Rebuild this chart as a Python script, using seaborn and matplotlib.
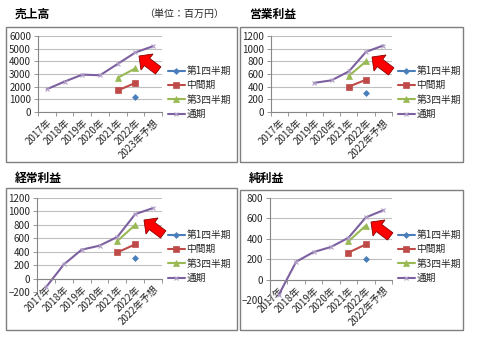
import numpy as np
import pandas as pd
import matplotlib
matplotlib.use("Agg")
import matplotlib.pyplot as plt
import seaborn as sns
from matplotlib.patches import Rectangle, Polygon
from matplotlib.transforms import IdentityTransform

sns.set_theme(style="white")
plt.rcParams['font.family'] = ['Noto Sans CJK JP', 'DejaVu Sans']

series_names = ["第1四半期", "中間期", "第3四半期", "通期"]
colors = ["#4A7EBB", "#BE4B48", "#98B954", "#7D60A0"]
markers = ["D", "s", "^", "x"]
msizes = [3.0, 4.5, 4.5, 3.3]

cats_a = ["2017年", "2018年", "2019年", "2020年", "2021年", "2022年", "2023年予想"]
cats_b = ["2017年", "2018年", "2019年", "2020年", "2021年", "2022年", "2022年予想"]

nan = np.nan
# 売上高
sales_q1 = [nan, nan, nan, nan, nan, 1150, nan]
sales_h1 = [nan, nan, nan, nan, 1700, 2300, nan]
sales_q3 = [nan, nan, nan, nan, 2700, 3450, nan]
sales_fy = [1800, 2400, 2950, 2900, 3800, 4700, 5200]
# 営業利益
op_q1 = [nan, nan, nan, nan, nan, 300, nan]
op_h1 = [nan, nan, nan, nan, 400, 510, nan]
op_q3 = [nan, nan, nan, nan, 570, 800, nan]
op_fy = [nan, nan, 460, 500, 640, 950, 1050]
# 経常利益
ord_q1 = [nan, nan, nan, nan, nan, 300, nan]
ord_h1 = [nan, nan, nan, nan, 390, 510, nan]
ord_q3 = [nan, nan, nan, nan, 560, 800, nan]
ord_fy = [-130, 210, 430, 490, 620, 960, 1050]
# 純利益
net_q1 = [nan, nan, nan, nan, nan, 200, nan]
net_h1 = [nan, nan, nan, nan, 265, 345, nan]
net_q3 = [nan, nan, nan, nan, 375, 530, nan]
net_fy = [-150, 175, 270, 320, 410, 610, 680]

W, H = 480, 338
fig = plt.figure(figsize=(4.8, 3.38), dpi=100)

def rect(l, t, r, b):
    return [l / W, 1 - b / H, (r - l) / W, (b - t) / H]

panels = [
    dict(title="売上高", cats=cats_a, data=[sales_q1, sales_h1, sales_q3, sales_fy],
         ylim=(0, 6000), step=1000, area=(38, 36, 162, 112), frame=(6, 27, 237, 162),
         tpos=(15, 14), leg=(168, 66), arrow=(139, 56)),
    dict(title="営業利益", cats=cats_b, data=[op_q1, op_h1, op_q3, op_fy],
         ylim=(0, 1200), step=200, area=(271, 36, 392, 112), frame=(240, 27, 463, 162),
         tpos=(249, 14), leg=(398, 66), arrow=(372, 57)),
    dict(title="経常利益", cats=cats_b, data=[ord_q1, ord_h1, ord_q3, ord_fy],
         ylim=(-200, 1200), step=200, area=(37, 198, 162, 292), frame=(6, 188, 237, 330),
         tpos=(15, 178), leg=(168, 230), arrow=(144, 220)),
    dict(title="純利益", cats=cats_b, data=[net_q1, net_h1, net_q3, net_fy],
         ylim=(-200, 800), step=200, area=(270, 198, 392, 300), frame=(240, 190, 463, 330),
         tpos=(249, 178), leg=(398, 230), arrow=(371, 222)),
]

def block_arrow(tip_px, direction=(-0.8, -0.6), total=24, head_len=10, head_w=20, shaft_w=9):
    # tip given in screen pixels from the top-left; direction in screen coords (y down)
    d = np.array(direction, float)
    d /= np.linalg.norm(d)
    n = np.array([-d[1], d[0]])
    tip = np.array(tip_px, float)
    pts_local = [(0, 0), (head_len, head_w / 2), (head_len, shaft_w / 2),
                 (total, shaft_w / 2), (total, -shaft_w / 2), (head_len, -shaft_w / 2),
                 (head_len, -head_w / 2)]
    pts = []
    for a, w in pts_local:
        q = tip - a * d + w * n
        pts.append((q[0], H - q[1]))
    return Polygon(pts, closed=True, facecolor="#FF0000", edgecolor="#8a0000",
                   linewidth=0.6, transform=IdentityTransform())

for p in panels:
    l, t, r, b = p["frame"]
    fig.patches.append(Rectangle((l / W, 1 - b / H), (r - l) / W, (b - t) / H,
                                 transform=fig.transFigure, fill=False,
                                 edgecolor="#7f7f7f", linewidth=1.0))
    fig.text(p["tpos"][0] / W, 1 - p["tpos"][1] / H, p["title"], fontsize=8.5,
             fontweight="bold", ha="left", va="center", color="black")

    ax = fig.add_axes(rect(*p["area"]))
    x = np.arange(len(p["cats"]))
    for name, vals, c, m, ms in zip(series_names, p["data"], colors, markers, msizes):
        df = pd.DataFrame({"x": x, "y": vals}).dropna()
        sns.lineplot(data=df, x="x", y="y", ax=ax, color=c, marker=m, markersize=ms,
                     markeredgecolor=("#B3A2C7" if m == "x" else c),
                     markeredgewidth=0.8 if m == "x" else 0.5,
                     linewidth=1.5, label=name, legend=False)
    for s in ["top", "right"]:
        ax.spines[s].set_visible(False)
    for s in ["left", "bottom"]:
        ax.spines[s].set_color("#868686")
        ax.spines[s].set_linewidth(0.8)
    ax.spines["bottom"].set_position(("data", 0))

    ax.set_xlim(-0.5, len(p["cats"]) - 0.5)
    ax.set_ylim(*p["ylim"])
    ax.set_yticks(np.arange(p["ylim"][0], p["ylim"][1] + 1, p["step"]))
    ax.set_xticks(x)
    ax.set_xticklabels(p["cats"], rotation=45, ha="right", rotation_mode="anchor")
    ax.set_xticks(np.arange(-0.5, len(p["cats"]), 1.0), minor=True)
    ax.tick_params(axis="x", which="major", length=0, labelsize=7, pad=4)
    ax.tick_params(axis="x", which="minor", length=3, width=0.6, color="#868686", direction="out", bottom=True)
    ax.tick_params(axis="y", length=3, width=0.6, color="#868686", labelsize=7, pad=2, left=True)
    ax.set_xlabel("")
    ax.set_ylabel("")
    ax.grid(axis="y", color="#bfbfbf", linewidth=0.8)
    ax.set_axisbelow(True)
    ax.set_facecolor("none")

    lx, ly = p["leg"]
    ax.legend(loc="upper left", bbox_to_anchor=(lx / W, 1 - ly / H),
              bbox_transform=fig.transFigure, frameon=False, fontsize=7,
              handlelength=1.7, handletextpad=0.2, labelspacing=0.45,
              borderpad=0, borderaxespad=0)

    fig.patches.append(block_arrow(p["arrow"]))

fig.text(144 / W, 1 - 14 / H, "（単位：百万円）", fontsize=7.2, ha="left", va="center")

fig.savefig("out.png", dpi=100)
